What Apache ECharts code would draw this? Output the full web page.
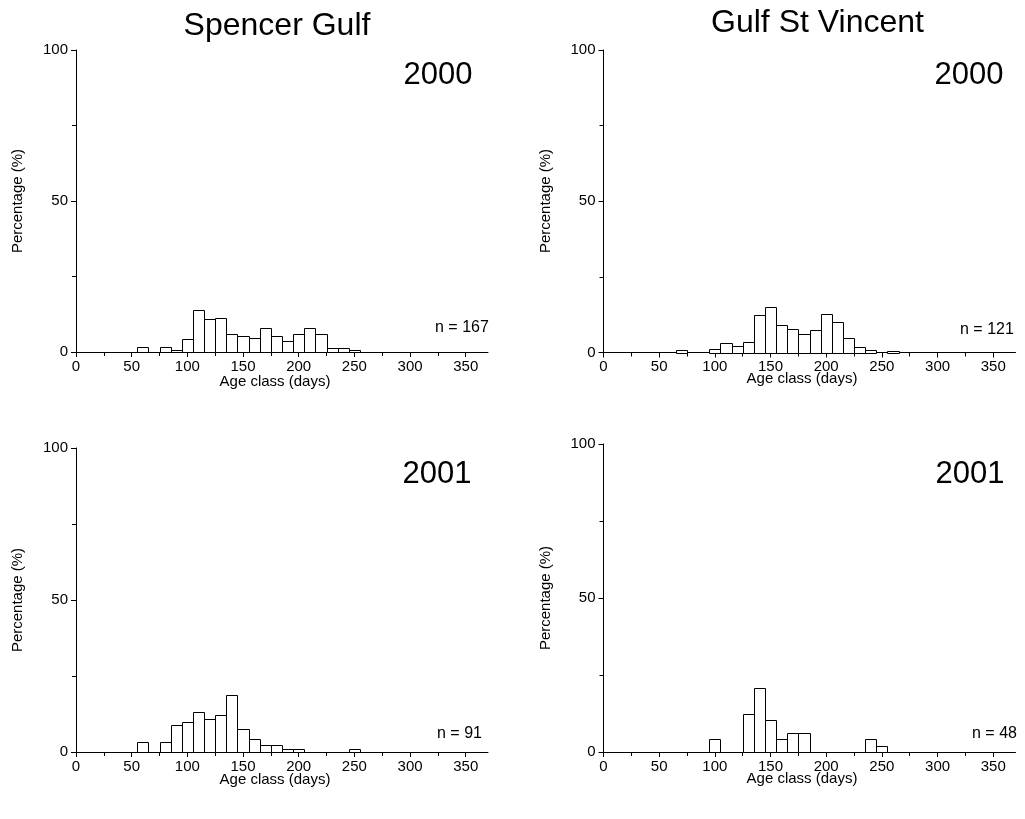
<!DOCTYPE html>
<html>
<head>
<meta charset="utf-8">
<script src="https://cdn.jsdelivr.net/npm/echarts@6/dist/echarts.min.js"></script>
<style>
html,body{margin:0;padding:0;background:#fff;}
#chart{width:1025px;height:819px;}
</style>
</head>
<body>
<div id="chart"></div>
<script>
// ---- data (age class centre in days, percentage) ----
const sg2000Age = [60, 80, 90, 100, 110, 120, 130, 140, 150, 160, 170, 180, 190, 200, 210, 220, 230, 240, 250];
const sg2000Pct = [1.8, 1.8, 0.6, 4.2, 13.8, 10.8, 11.4, 6.0, 5.4, 4.8, 7.8, 5.4, 3.6, 6.0, 7.8, 6.0, 1.2, 1.2, 0.6];

const gsv2000Age = [70, 100, 110, 120, 130, 140, 150, 160, 170, 180, 190, 200, 210, 220, 230, 240, 260];
const gsv2000Pct = [0.8, 1.2, 3.3, 2.3, 3.6, 12.3, 14.9, 9.2, 7.9, 6.0, 7.5, 12.8, 10.0, 4.8, 1.9, 0.8, 0.5];

const sg2001Age = [60, 80, 90, 100, 110, 120, 130, 140, 150, 160, 170, 180, 190, 200, 250];
const sg2001Pct = [3.3, 3.3, 8.8, 9.9, 13.2, 11.0, 12.1, 18.7, 7.7, 4.4, 2.2, 2.2, 1.1, 1.1, 1.1];

const gsv2001Age = [100, 130, 140, 150, 160, 170, 180, 240, 250];
const gsv2001Pct = [4.2, 12.5, 20.8, 10.4, 4.2, 6.25, 6.25, 4.2, 2.1];

const binWidth = 10;
const xMajorTicks = [0, 50, 100, 150, 200, 250, 300, 350];
const xMinorTicks = [25, 75, 125, 175, 225, 275, 325];
const regionTitles = ['Spencer Gulf', 'Gulf St Vincent'];
const yearLabels = ['2000', '2000', '2001', '2001'];
const nLabels = ['n = 167', 'n = 121', 'n = 91', 'n = 48'];
const xAxisName = 'Age class (days)';
const yAxisName = 'Percentage (%)';

// ---- layout ----
const FONT = 'Liberation Sans, Arial, Helvetica, sans-serif';
const grids = [
  {left: 76, top: 50, width: 412, height: 302},
  {left: 603.5, top: 50, width: 412, height: 302.5},
  {left: 76, top: 448, width: 412, height: 304},
  {left: 603.5, top: 444, width: 412, height: 308}
];
const panels = [
  [sg2000Age, sg2000Pct],
  [gsv2000Age, gsv2000Pct],
  [sg2001Age, sg2001Pct],
  [gsv2001Age, gsv2001Pct]
];

function renderBar(params, api) {
  const c = api.value(0), v = api.value(1);
  const p0 = api.coord([c - binWidth / 2, v]);
  const p1 = api.coord([c + binWidth / 2, 0]);
  const x0 = Math.round(p0[0]) + 0.5, x1 = Math.round(p1[0]) + 0.5;
  const y0 = Math.round(p0[1]) + 0.5, y1 = Math.round(p1[1]) + 0.5;
  return {
    type: 'rect',
    shape: {x: x0, y: y0, width: x1 - x0, height: y1 - y0},
    style: {fill: '#fff', stroke: '#000', lineWidth: 1}
  };
}

const xAxes = [], yAxes = [], series = [];
grids.forEach((g, i) => {
  xAxes.push({
    gridIndex: i, type: 'value', min: 0, max: 370, position: 'bottom',
    axisLine: {show: true, onZero: false, lineStyle: {color: '#000', width: 1}},
    axisTick: {show: true, customValues: xMajorTicks, length: 5, lineStyle: {color: '#000'}},
    axisLabel: {customValues: xMajorTicks, color: '#000', fontSize: 15, margin: 7, fontFamily: FONT},
    splitLine: {show: false}
  });
  xAxes.push({
    gridIndex: i, type: 'value', min: 0, max: 370, position: 'bottom',
    axisLine: {show: false, onZero: false},
    axisTick: {show: true, customValues: xMinorTicks, length: 4, lineStyle: {color: '#000'}},
    axisLabel: {show: false},
    splitLine: {show: false}
  });
  yAxes.push({
    gridIndex: i, type: 'value', min: 0, max: 100, interval: 50,
    axisLine: {show: true, lineStyle: {color: '#000', width: 1}},
    axisTick: {show: true, length: 5, lineStyle: {color: '#000'}},
    minorTick: {show: true, splitNumber: 2, length: 4, lineStyle: {color: '#000'}},
    axisLabel: {color: '#000', fontSize: 15, margin: 8, fontFamily: FONT},
    splitLine: {show: false}
  });
  const [ages, pcts] = panels[i];
  series.push({
    type: 'custom',
    xAxisIndex: i * 2, yAxisIndex: i,
    renderItem: renderBar,
    encode: {x: 0, y: 1},
    data: ages.map((a, k) => [a, pcts[k]]),
    silent: true
  });
});

function txt(text, x, y, size, align, rotation) {
  return {
    type: 'text', x: x, y: y, rotation: rotation || 0,
    style: {text: text, fontSize: size, fontFamily: FONT, fill: '#000',
            align: align || 'center', verticalAlign: 'middle'}
  };
}

const graphics = [
  txt(regionTitles[0], 277, 26.5, 32),
  txt(regionTitles[1], 817.5, 23, 32),
  txt(yearLabels[0], 438, 75, 31),
  txt(yearLabels[1], 969, 75, 31),
  txt(yearLabels[2], 437, 474, 31),
  txt(yearLabels[3], 970, 474, 31),
  txt(nLabels[0], 435, 327.5, 16, 'left'),
  txt(nLabels[1], 960, 329.5, 16, 'left'),
  txt(nLabels[2], 437, 734, 16, 'left'),
  txt(nLabels[3], 972, 734, 16, 'left'),
  txt(xAxisName, 275, 382, 15),
  txt(xAxisName, 802, 379, 15),
  txt(xAxisName, 275, 780, 15),
  txt(xAxisName, 802, 779, 15),
  txt(yAxisName, 18, 201, 15, 'center', Math.PI / 2),
  txt(yAxisName, 546, 201, 15, 'center', Math.PI / 2),
  txt(yAxisName, 18, 600, 15, 'center', Math.PI / 2),
  txt(yAxisName, 546, 598, 15, 'center', Math.PI / 2)
];

const chart = echarts.init(document.getElementById('chart'), null, {renderer: 'canvas'});
chart.setOption({
  backgroundColor: '#fff',
  animation: false,
  textStyle: {fontFamily: FONT},
  grid: grids.map(g => Object.assign({containLabel: false}, g)),
  xAxis: xAxes,
  yAxis: yAxes,
  series: series,
  graphic: graphics
});
</script>
</body>
</html>
